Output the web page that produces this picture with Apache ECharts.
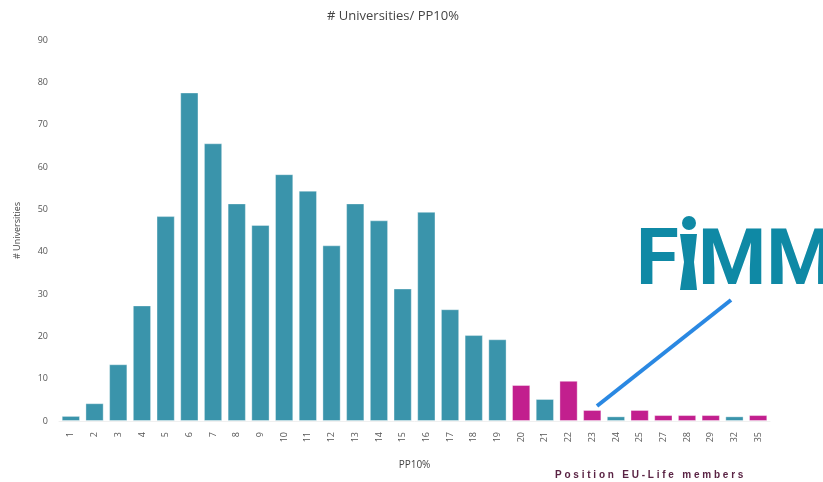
<!DOCTYPE html>
<html>
<head>
<meta charset="utf-8">
<script src="https://cdn.jsdelivr.net/npm/echarts@6/dist/echarts.min.js"></script>
<style>
  html, body { margin: 0; padding: 0; background: #fff; }
  #chart { width: 823px; height: 482px; }
</style>
</head>
<body>
<div id="chart"></div>
<script>
// PP10% positions and number of universities per position
const categories = ['1', '2', '3', '4', '5', '6', '7', '8', '9', '10', '11', '12', '13', '14',
  '15', '16', '17', '18', '19', '20', '21', '22', '23', '24', '25', '27', '28', '29', '32', '35']
const counts = [1.2, 4.2, 13.4, 27.3, 48.4, 77.6, 65.6, 51.4, 46.3, 58.3, 54.4, 41.5, 51.4, 47.4,
  31.3, 49.4, 26.4, 20.3, 19.3, 8.5, 5.2, 9.5, 2.6, 1.1, 2.6, 1.4, 1.4, 1.4, 1.1, 1.4]
// positions held by EU-Life members (drawn in magenta)
const euLifePositions = ['20', '22', '23', '25', '27', '28', '29', '35']
const yTicks = [0, 10, 20, 30, 40, 50, 60, 70, 80, 90]

const teal = '#3a94ab'
const magenta = '#c21f8e'
const logoColor = '#0f89a5'

const chart = echarts.init(document.getElementById('chart'))

let option = {
  backgroundColor: '#fff',
  title: {
    text: '# Universities/ PP10%',
    left: 388,
    textAlign: 'center',
    top: 5,
    textStyle: {
      color: '#444',
      fontSize: 13,
      fontWeight: 'normal',
      fontFamily: 'Open Sans'
    }
  },
  grid: {
    left: 59,
    right: 53,
    top: 40,
    bottom: 61
  },
  xAxis: {
    type: 'category',
    data: categories,
    name: 'PP10%',
    nameLocation: 'middle',
    nameGap: 39,
    nameTextStyle: { color: '#444', fontSize: 10, fontFamily: 'Open Sans' },
    axisLine: { show: true, lineStyle: { color: '#f0f0f0' } },
    axisTick: { show: false },
    axisLabel: {
      rotate: 90,
      color: '#555',
      fontSize: 9,
      fontFamily: 'Open Sans',
      margin: 11,
      interval: 0
    }
  },
  yAxis: {
    type: 'value',
    min: yTicks[0],
    max: yTicks[yTicks.length - 1],
    interval: 10,
    name: '# Universities',
    nameLocation: 'middle',
    nameGap: 37,
    nameTextStyle: { color: '#444', fontSize: 9, fontFamily: 'Open Sans' },
    axisLine: { show: false },
    axisTick: { show: false },
    splitLine: { show: false },
    axisLabel: {
      color: '#555',
      fontSize: 9,
      fontFamily: 'Open Sans',
      margin: 11
    }
  },
  series: [
    {
      type: 'bar',
      barCategoryGap: '23%',
      data: counts.map((v, i) => ({
        value: v,
        itemStyle: {
          color: euLifePositions.includes(categories[i]) ? magenta : teal,
          borderColor: 'rgba(255,255,255,0.35)',
          borderWidth: 1
        }
      }))
    }
  ],
  graphic: [
    // FIMM logo: F, custom i (dot + stem), MM
    {
      type: 'text',
      left: 636,
      top: 225,
      style: { text: 'F', fill: logoColor, font: 'bold 78px Roboto' }
    },
    {
      type: 'circle',
      shape: { cx: 689, cy: 223, r: 7 },
      style: { fill: logoColor }
    },
    {
      type: 'polygon',
      shape: { points: [[680, 234], [697, 234], [694, 262], [697, 290], [680, 290], [684, 262]] },
      style: { fill: logoColor }
    },
    {
      type: 'text',
      left: 698,
      top: 225,
      style: { text: 'MM', fill: logoColor, font: 'bold 78px Roboto' }
    },
    {
      type: 'line',
      shape: { x1: 597, y1: 406, x2: 731, y2: 300 },
      style: { stroke: '#2a88e2', lineWidth: 4 }
    },
    {
      type: 'text',
      left: 555,
      top: 470,
      style: {
        text: 'P o s i t i o n   E U - L i f e   m e m b e r s',
        fill: '#5a2344',
        font: 'bold 10px "Liberation Sans"'
      }
    }
  ]
}
chart.setOption(option)
</script>
</body>
</html>
